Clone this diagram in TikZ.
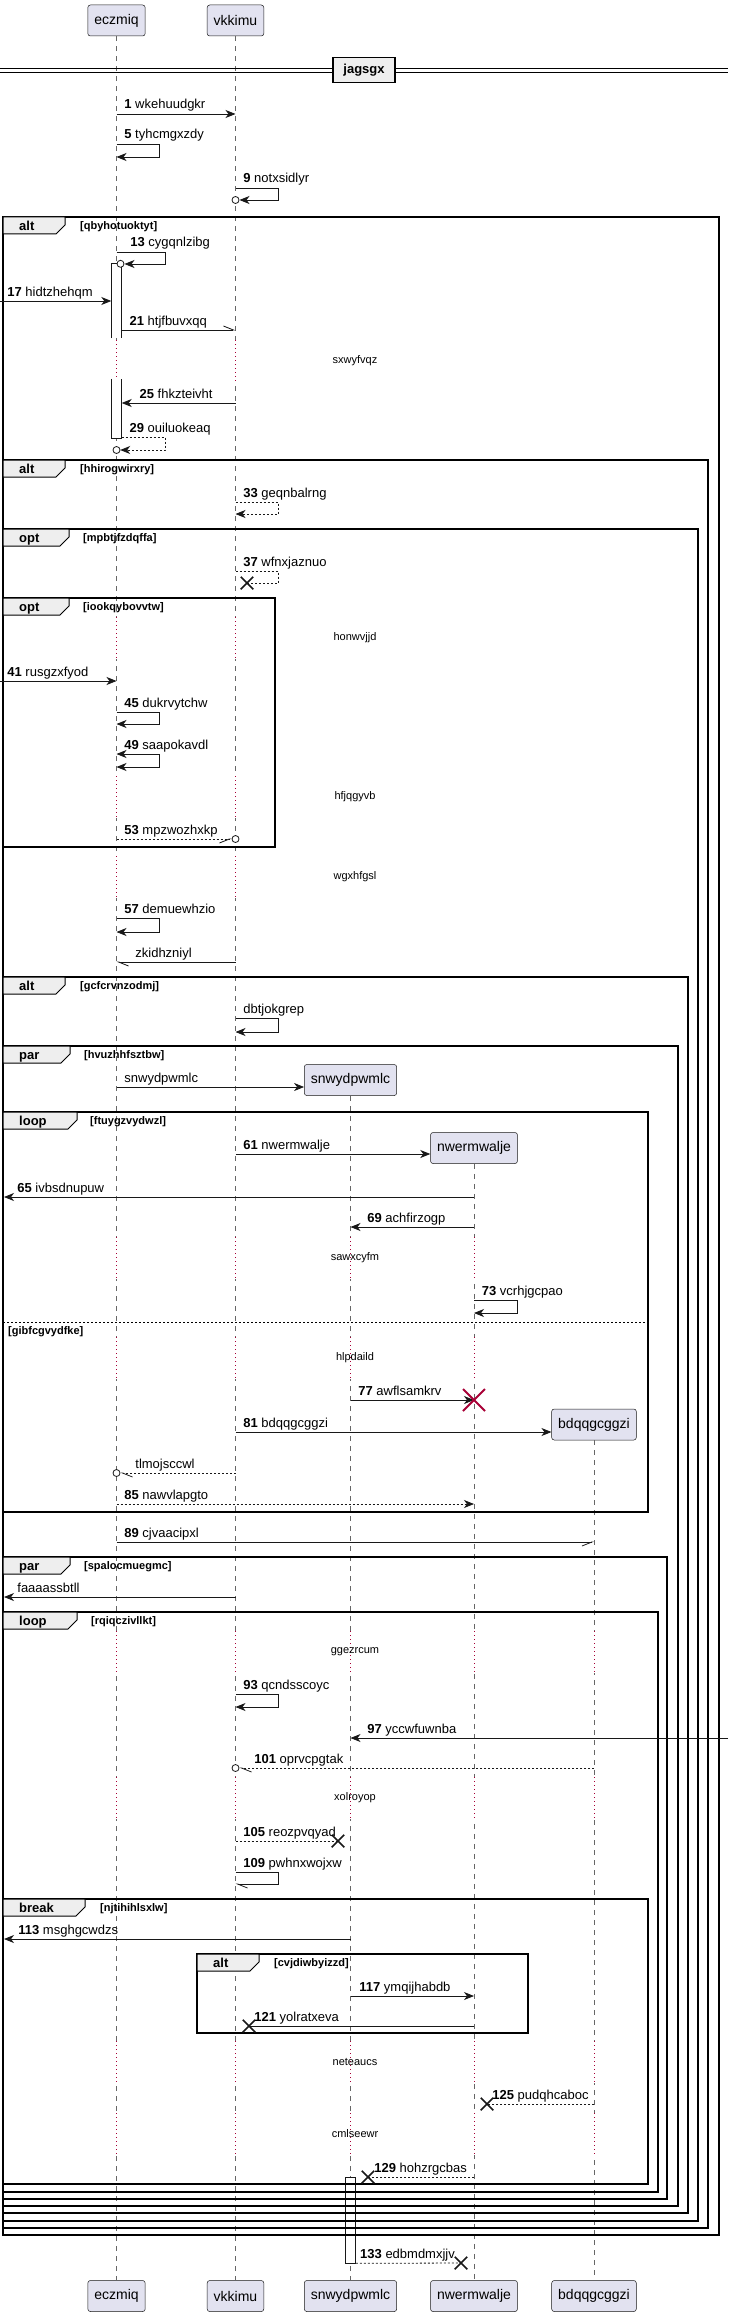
\documentclass[tikz,border=0pt]{standalone}
\usepackage{fontspec}
\setmainfont{Liberation Sans}
\usetikzlibrary{arrows.meta,shapes.misc}
\definecolor{partfill}{HTML}{E2E2F0}
\definecolor{tabgray}{HTML}{EEEEEE}
\definecolor{delayred}{HTML}{A80036}
\definecolor{ink}{HTML}{181818}
\newcommand{\msgfont}{\fontsize{13}{15}\selectfont}
\tikzset{%
  actor/.style    = {draw=ink, fill=partfill, rounded corners=2.5pt, line width=0.5pt,%
                     minimum height=31pt, inner xsep=6.5pt, font=\fontsize{14}{16}\selectfont},%
  lifeline/.style = {draw=black!60, line width=0.6pt, dash pattern=on 5pt off 5pt},%
  delaygap/.style = {draw=white, line width=2pt},%
  delaydot/.style = {draw=delayred, line width=0.8pt, dash pattern=on 1pt off 3pt},%
  delaytxt/.style = {inner sep=0pt, font=\fontsize{11}{13}\selectfont},%
  bar/.style      = {rectangle, fill=white, minimum width=10pt, inner sep=0pt},%
  act/.style      = {draw=ink, line width=0.6pt},%
  msg/.style      = {draw=ink, line width=0.8pt, -{Stealth[length=10pt,width=8pt,inset=3pt]}},%
  both/.style     = {draw=ink, line width=0.8pt,%
                     {Stealth[length=10pt,width=8pt,inset=3pt]}-{Stealth[length=10pt,width=8pt,inset=3pt]}},%
  half/.style     = {draw=ink, line width=0.8pt, -{Straight Barb[harpoon,length=10pt,width=8pt]}},%
  halfdn/.style   = {draw=ink, line width=0.8pt, -{Straight Barb[harpoon,swap,length=10pt,width=8pt]}},%
  plain/.style    = {draw=ink, line width=0.8pt},%
  ret/.style      = {dash pattern=on 2pt off 2pt},%
  mlab/.style     = {anchor=base west, inner sep=0pt, font=\msgfont, xshift=#1, yshift=5pt},%
  mlab/.default   = 7.5pt,%
  circ/.style     = {draw=ink, fill=white, line width=0.8pt},%
  killx/.style    = {cross out, draw=ink, line width=1.5pt, minimum size=11pt, inner sep=0pt},%
  killred/.style  = {cross out, draw=delayred, line width=2pt, minimum size=20pt, inner sep=0pt},%
  grp/.style      = {draw=black, line width=1.5pt},%
  tab/.style      = {draw=black, fill=tabgray, line width=1pt},%
  elsesep/.style  = {draw=black, line width=0.8pt, dash pattern=on 2pt off 2pt},%
  kw/.style       = {anchor=base west, inner sep=0pt, font=\bfseries\msgfont},%
  guard/.style    = {anchor=base west, inner sep=0pt, font=\bfseries\fontsize{11}{13}\selectfont},%
  divbox/.style   = {draw=black, fill=tabgray, line width=1.5pt, font=\bfseries\msgfont,%
                     minimum width=62pt, minimum height=25pt, inner sep=0pt}%
}
\begin{document}
\begin{tikzpicture}[x=1pt, y=-1pt]
\useasboundingbox (0,0) rectangle (728,2317);
% participants
\node[actor] (eczH) at (116.5,20.5) {eczmiq};
\node[actor] (vkkH) at (235.5,20.5) {vkkimu};
\node[actor] (snwC) at (350.5,1080) {snwydpwmlc};
\node[actor] (nweC) at (474,1148) {nwermwalje};
\node[actor] (bdqC) at (594,1424.5) {bdqqgcggzi};
\node[actor] (eczF) at (116.5,2296) {eczmiq};
\node[actor] (vkkF) at (235.5,2296) {vkkimu};
\node[actor] (snwF) at (350.5,2296) {snwydpwmlc};
\node[actor] (nweF) at (474,2296) {nwermwalje};
\node[actor] (bdqF) at (594,2296) {bdqqgcggzi};
\coordinate (lft) at (0,0);
\coordinate (lfttip) at (4,0);
\coordinate (rgt) at (728,0);
% lifelines
\draw[lifeline] (eczH) -- (eczF);
\draw[lifeline] (vkkH) -- (vkkF);
\draw[lifeline] (snwC) -- (snwF);
\draw[lifeline] (nweC) -- (nweF);
\draw[lifeline] (bdqC) -- (bdqF);
% delays
\foreach \dy in {361,638,797,877,1258,1358,1652,1798,2062,2134}
  \foreach \p in {eczH,vkkH}
  {
    \draw[delaygap] (\p |- 0,\dy-21) -- (\p |- 0,\dy+21);
    \draw[delaydot] (\p |- 0,\dy-21) -- (\p |- 0,\dy+21);
  }
\foreach \dy in {1258,1358,1652,1798,2062,2134}
  \foreach \p in {snwC,nweC}
  {
    \draw[delaygap] (\p |- 0,\dy-21) -- (\p |- 0,\dy+21);
    \draw[delaydot] (\p |- 0,\dy-21) -- (\p |- 0,\dy+21);
  }
\foreach \dy in {1652,1798,2062,2134}
  {
    \draw[delaygap] (bdqC |- 0,\dy-21) -- (bdqC |- 0,\dy+21);
    \draw[delaydot] (bdqC |- 0,\dy-21) -- (bdqC |- 0,\dy+21);
  }
\foreach \dy/\dt in {361/sxwyfvqz,638/honwvjjd,797/hfjqgyvb,877/wgxhfgsl,1258/sawxcyfm,
                     1358/hlpdaild,1652/ggezrcum,1798/xolroyop,2062/neteaucs,2134/cmlseewr}
  \node[delaytxt] at (355,\dy) {\dt};
% activations
\node[bar, minimum height=74pt] (eczA) at (116.5,301) {};
\draw[act] (eczA.south west) -- (eczA.north west) -- (eczA.north east) -- (eczA.south east);
\node[bar, minimum height=59pt] (eczB) at (116.5,408.5) {};
\draw[act] (eczB.north west) -- (eczB.south west) -- (eczB.south east) -- (eczB.north east);
\node[bar, act, draw, minimum height=86pt] (snwA) at (350.5,2220) {};
% groups
\foreach \fl/\ft/\fr/\fb/\fw/\fk/\fg/\fx in {
    3/217/719/2235/65/alt/qbyhotuoktyt/80,
    3/460/708/2228/65/alt/hhirogwirxry/80,
    3/529/698/2221/69/opt/mpbtjfzdqffa/83,
    3/598/275/847/69/opt/iookqybovvtw/83,
    3/977/688/2213/65/alt/gcfcrvnzodmj/80,
    3/1046/678/2206/70/par/hvuzhhfsztbw/84,
    3/1112/648/1512/77/loop/ftuygzvydwzl/90,
    3/1557/667/2199/70/par/spalocmuegmc/84,
    3/1612/658/2192/77/loop/rqiqczivllkt/91,
    3/1899/648/2184/85/break/njtihihlsxlw/100,
    197/1954/528/2033/259/alt/cvjdiwbyizzd/274}
{
  \draw[grp] (\fl,\ft) rectangle (\fr,\fb);
  \draw[tab] (\fl,\ft) -- (\fw,\ft) -- (\fw,\ft+8) -- (\fw-9,\ft+17) -- (\fl,\ft+17) -- cycle;
  \node[kw] at (\fl+16,\ft+13.5) {\fk};
  \node[guard] at (\fx,\ft+12.5) {[\fg]};
}
\draw[elsesep] (3,1322) -- (648,1322);
\node[guard] at (8,1334) {[gibfcgvydfke]};
% divider
\draw[line width=0.9pt] (lft |- 0,68) -- (rgt |- 0,68) (lft |- 0,72) -- (rgt |- 0,72);
\node[divbox] (jag) at (364,70) {jagsgx};
% messages
\draw[msg] (eczH |- 0,114) node[mlab] {\textbf{1} wkehuudgkr} -- (vkkH |- 0,114);
\draw[msg] (eczH |- 0,144) node[mlab] {\textbf{5} tyhcmgxzdy} -- ++(42.5,0) -- ++(0,13) -- (eczH |- 0,157);
\draw[msg] (vkkH |- 0,188) node[mlab] {\textbf{9} notxsidlyr} -- ++(42.5,0) -- ++(0,12) -- ++(-38.5,0);
\draw[circ] (vkkH |- 0,200) circle (3.5pt);
\draw[msg] (eczH |- 0,252) node[mlab=13.5pt] {\textbf{13} cygqnlzibg} -- ++(48.5,0) -- ++(0,12) -- ++(-40.5,0);
\draw[circ] (eczA.north) ++(4,0) circle (3.5pt);
\draw[msg] (lft |- eczA.west) node[mlab=7pt] {\textbf{17} hidtzhehqm} -- (eczA.west);
\draw[half] (eczA.east |- 0,330) node[mlab] {\textbf{21} htjfbuvxqq} -- (vkkH |- 0,330);
\draw[msg] (vkkH |- 0,403) -- (eczB.east |- 0,403) node[mlab=17.5pt] {\textbf{25} fhkzteivht};
\draw[msg, ret] (eczB.east |- 0,437) node[mlab] {\textbf{29} ouiluokeaq} -- ++(43.5,0) -- ++(0,13) -- ++(-45,0);
\draw[circ] (eczH |- 0,450) circle (3.5pt);
\draw[msg, ret] (vkkH |- 0,502) node[mlab] {\textbf{33} geqnbalrng} -- ++(42.5,0) -- ++(0,12) -- (vkkH |- 0,514);
\node[killx] (x37) at (247,583) {};
\draw[plain, ret] (vkkH |- 0,571) node[mlab] {\textbf{37} wfnxjaznuo} -- ++(42.5,0) -- ++(0,12) -- (x37.center);
\draw[msg] (lft |- 0,681) node[mlab=7pt] {\textbf{41} rusgzxfyod} -- (eczH |- 0,681);
\draw[msg] (eczH |- 0,712) node[mlab] {\textbf{45} dukrvytchw} -- ++(42.5,0) -- ++(0,12) -- (eczH |- 0,724);
\draw[both] (eczH |- 0,754) node[mlab] {\textbf{49} saapokavdl} -- ++(42.5,0) -- ++(0,13) -- (eczH |- 0,767);
\draw[halfdn, ret] (eczH |- 0,839) node[mlab] {\textbf{53} mpzwozhxkp} -- ++(115,0);
\draw[circ] (vkkH |- 0,839) circle (3.5pt);
\draw[msg] (eczH |- 0,918) node[mlab] {\textbf{57} demuewhzio} -- ++(42.5,0) -- ++(0,14) -- (eczH |- 0,932);
\draw[half] (vkkH |- 0,962) -- (eczH |- 0,962) node[mlab=18.5pt] {zkidhzniyl};
\draw[msg] (vkkH |- 0,1018) node[mlab] {dbtjokgrep} -- ++(42.5,0) -- ++(0,14) -- (vkkH |- 0,1032);
\draw[msg] (eczH |- 0,1087) node[mlab] {snwydpwmlc} -- (snwC.west |- 0,1087);
\draw[msg] (vkkH |- 0,1154) node[mlab] {\textbf{61} nwermwalje} -- (nweC.west |- 0,1154);
\draw[msg] (nweC |- 0,1197) -- (lfttip |- 0,1197) node[mlab=13pt] {\textbf{65} ivbsdnupuw};
\draw[msg] (nweC |- 0,1227) -- (snwC |- 0,1227) node[mlab=16.5pt] {\textbf{69} achfirzogp};
\draw[msg] (nweC |- 0,1300) node[mlab] {\textbf{73} vcrhjgcpao} -- ++(43,0) -- ++(0,13) -- (nweC |- 0,1313);
\draw[msg] (snwC |- 0,1400) node[mlab] {\textbf{77} awflsamkrv} -- (nweC |- 0,1400);
\node[killred] (x77) at (nweC |- 0,1400) {};
\draw[msg] (vkkH |- 0,1432) node[mlab] {\textbf{81} bdqqgcggzi} -- (bdqC.west |- 0,1432);
\draw[half, ret] (vkkH |- 0,1473) -- ++(-115,0) node[mlab=14.5pt] {tlmojsccwl};
\draw[circ] (eczH |- 0,1473) circle (3.5pt);
\draw[msg, ret] (eczH |- 0,1504) node[mlab] {\textbf{85} nawvlapgto} -- (nweC |- 0,1504);
\draw[halfdn] (eczH |- 0,1542) node[mlab] {\textbf{89} cjvaacipxl} -- (bdqC |- 0,1542);
\draw[msg] (vkkH |- 0,1597) -- (lfttip |- 0,1597) node[mlab=13pt] {faaaassbtll};
\draw[msg] (vkkH |- 0,1694) node[mlab] {\textbf{93} qcndsscoyc} -- ++(42.5,0) -- ++(0,13) -- (vkkH |- 0,1707);
\draw[msg] (rgt |- 0,1738) -- (snwC |- 0,1738) node[mlab=16.5pt] {\textbf{97} yccwfuwnba};
\draw[half, ret] (bdqC |- 0,1768) -- ++(-354.5,0) node[mlab=14.5pt] {\textbf{101} oprvcpgtak};
\draw[circ] (vkkH |- 0,1768) circle (3.5pt);
\node[killx] (x105) at (338,1841) {};
\draw[plain, ret] (vkkH |- 0,1841) node[mlab] {\textbf{105} reozpvqyad} -- (x105.center);
\draw[half] (vkkH |- 0,1872) node[mlab] {\textbf{109} pwhnxwojxw} -- ++(42.5,0) -- ++(0,12) -- (vkkH |- 0,1884);
\draw[msg] (snwC |- 0,1939) -- (lfttip |- 0,1939) node[mlab=14pt] {\textbf{113} msghgcwdzs};
\draw[msg] (snwC |- 0,1996) node[mlab=8.5pt] {\textbf{117} ymqijhabdb} -- (nweC |- 0,1996);
\node[killx] (x121) at (249,2026) {};
\draw[plain] (nweC |- 0,2026) -- (x121.center) node[mlab=5pt] {\textbf{121} yolratxeva};
\node[killx] (x125) at (487,2104) {};
\draw[plain, ret] (bdqC |- 0,2104) -- (x125.center) node[mlab=5pt] {\textbf{125} pudqhcaboc};
\node[killx] (x129) at (368,2177) {};
\draw[plain, ret] (nweC |- 0,2177) -- (x129.center) node[mlab=6pt] {\textbf{129} hohzrgcbas};
\node[killx] (x133) at (461,2263) {};
\draw[plain, ret] (snwA.south east) node[mlab=4pt] {\textbf{133} edbmdmxjjv} -- (x133.center);
\end{tikzpicture}
\end{document}
